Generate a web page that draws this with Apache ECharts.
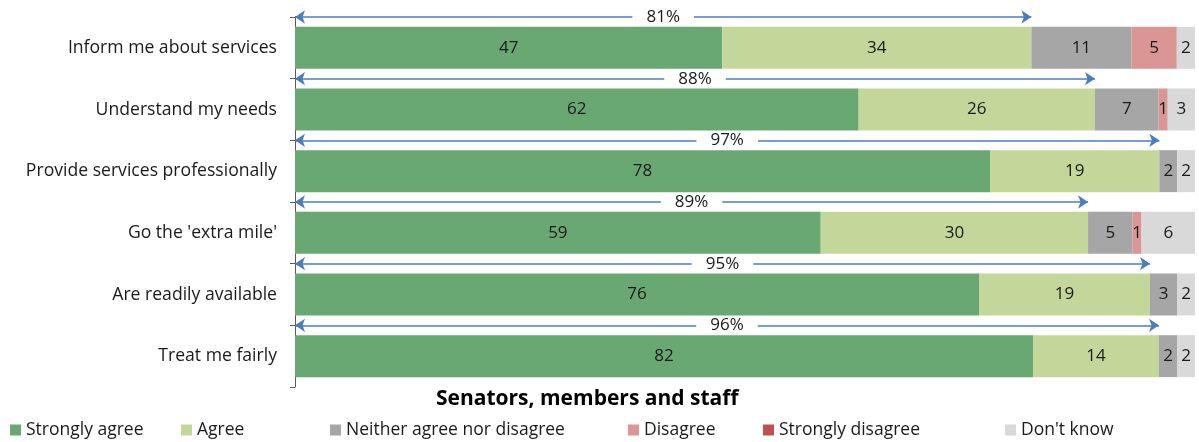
<!DOCTYPE html>
<html>
<head>
<meta charset="utf-8">
<script src="https://cdn.jsdelivr.net/npm/echarts@6/dist/echarts.min.js"></script>
<style>
  html, body { margin: 0; padding: 0; background: #fff; }
  #chart { width: 1199px; height: 442px; }
</style>
</head>
<body>
<div id="chart"></div>
<script>
// data (rounded percentages)
const categories = [
  "Inform me about services",
  "Understand my needs",
  "Provide services professionally",
  "Go the 'extra mile'",
  "Are readily available",
  "Treat me fairly"
];
const stronglyAgree = [47, 62, 78, 59, 76, 82];
const agree = [34, 26, 19, 30, 19, 14];
const neither = [11, 7, 2, 5, 3, 2];
const disagree = [5, 1, 0, 1, 0, 0];
const stronglyDisagree = [0, 0, 0, 0, 0, 0];
const dontKnow = [2, 3, 2, 6, 2, 2];
const totalAgree = [81, 88, 97, 89, 95, 96];

const seriesDefs = [
  { name: "Strongly agree", values: stronglyAgree, color: "#6aa873" },
  { name: "Agree", values: agree, color: "#c4d79b" },
  { name: "Neither agree nor disagree", values: neither, color: "#a6a6a6" },
  { name: "Disagree", values: disagree, color: "#da9694" },
  { name: "Strongly disagree", values: stronglyDisagree, color: "#c0504d" },
  { name: "Don't know", values: dontKnow, color: "#d9d9d9" }
];
// legend icon left positions
const legendLeft = [10, 181, 330, 628, 763, 1005];

const FONT = "Open Sans";

// 100% stacked, like the Excel original
const rowTotals = categories.map((c, i) =>
  seriesDefs.reduce((s, d) => s + d.values[i], 0));
const pct = (v, i) => v / rowTotals[i] * 100;

const barSeries = seriesDefs.map(d => ({
  name: d.name,
  type: "bar",
  stack: "all",
  barWidth: "68%",
  itemStyle: { color: d.color },
  label: {
    show: true,
    position: "inside",
    color: "#1a1a1a",
    fontFamily: FONT,
    fontSize: 17,
    formatter: p => (d.values[p.dataIndex] > 0 ? d.values[p.dataIndex] : "")
  },
  data: d.values.map((v, i) => pct(v, i))
}));

const arrowSeries = {
  type: "lines",
  coordinateSystem: "cartesian2d",
  xAxisIndex: 0,
  yAxisIndex: 1,
  polyline: false,
  silent: true,
  clip: false,
  symbol: ["arrow", "arrow"],
  symbolSize: 10,
  lineStyle: { color: "#4a7ebb", width: 1.5, opacity: 1 },
  label: {
    show: true,
    position: "middle",
    distance: 0,
    verticalAlign: "middle",
    color: "#1a1a1a",
    fontFamily: FONT,
    fontSize: 17,
    backgroundColor: "#fff",
    padding: [0, 14],
    formatter: p => totalAgree[p.dataIndex] + "%"
  },
  data: categories.map((c, i) => ({
    name: c,
    coords: [[0, i], [pct(totalAgree[i], i), i]]
  })),
  z: 5
};

const chart = echarts.init(document.getElementById("chart"));
chart.setOption({
  animation: false,
  title: {
    text: "Senators, members and staff",
    left: 436,
    top: 389,
    padding: 0,
    textStyle: { fontFamily: FONT, fontSize: 21, fontWeight: "bold", color: "#000" }
  },
  legend: seriesDefs.map((d, i) => ({
    data: [d.name],
    left: legendLeft[i],
    top: 421,
    padding: 0,
    itemWidth: 11,
    itemHeight: 11,
    itemGap: 5,
    icon: "rect",
    textStyle: { fontFamily: FONT, fontSize: 17.5, color: "#1a1a1a" }
  })),
  grid: { left: 295, right: 4, top: 17, bottom: 55, containLabel: false },
  xAxis: { type: "value", min: 0, max: 100, show: false },
  yAxis: [
    {
      type: "category",
      data: categories,
      inverse: true,
      axisLine: { show: true, lineStyle: { color: "#595959", width: 1 } },
      axisTick: { show: true, length: 5, lineStyle: { color: "#595959" } },
      axisLabel: { fontFamily: FONT, fontSize: 17.6, color: "#1a1a1a", margin: 18 },
      splitLine: { show: false }
    },
    { type: "value", min: 0, max: 6, inverse: true, show: false }
  ],
  series: [...barSeries, arrowSeries]
});
</script>
</body>
</html>
